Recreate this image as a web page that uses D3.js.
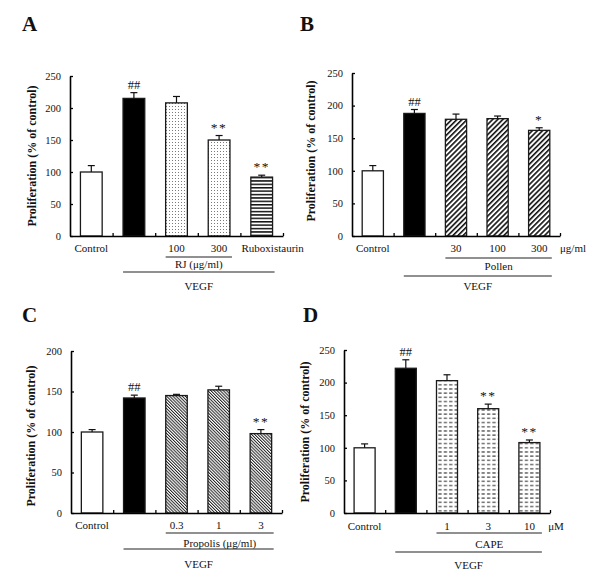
<!DOCTYPE html>
<html>
<head>
<meta charset="utf-8">
<script src="https://cdn.jsdelivr.net/npm/d3@7"></script>
<style>
  html, body { margin: 0; padding: 0; background: #fff; }
  svg { display: block; }
  text { font-family: "Liberation Serif", "Times New Roman", serif; fill: #111; }
</style>
</head>
<body>
<svg id="chart" width="600" height="580"></svg>
<script>
// ---------------- DATA ----------------
const yTitle = "Proliferation (% of control)";

const aLabels = ["Control", "", "100", "300", "Ruboxistaurin"];
const aValues = [100, 215, 208, 150, 92];
const aErrors = [10, 9, 10, 7, 3];
const aMarks  = ["", "##", "", "**", "**"];
const aFills  = ["white", "black", "dots", "dots", "hlines"];
const aTicks  = [0, 50, 100, 150, 200, 250];
const aGroups = [{text: "RJ (\u03bcg/ml)", from: 2, to: 3}, {text: "VEGF", from: 1, to: 4}];

const bLabels = ["Control", "", "30", "100", "300"];
const bValues = [100, 188, 179, 180, 162];
const bErrors = [8, 6, 8, 4, 4];
const bMarks  = ["", "##", "", "", "*"];
const bFills  = ["white", "black", "diag", "diag", "diag"];
const bTicks  = [0, 50, 100, 150, 200, 250];
const bUnit   = "\u03bcg/ml";
const bGroups = [{text: "Pollen", from: 2, to: 4}, {text: "VEGF", from: 1, to: 4}];

const cLabels = ["Control", "", "0.3", "1", "3"];
const cValues = [100, 142, 145, 152, 98];
const cErrors = [3, 3.5, 1.5, 4.5, 5];
const cMarks  = ["", "##", "", "", "**"];
const cFills  = ["white", "black", "diagDense", "diagDense", "diagDense"];
const cTicks  = [0, 50, 100, 150, 200];
const cGroups = [{text: "Propolis (\u03bcg/ml)", from: 2, to: 4}, {text: "VEGF", from: 1, to: 4}];

const dLabels = ["Control", "", "1", "3", "10"];
const dValues = [100, 222, 203, 160, 108];
const dErrors = [6, 13, 9, 7, 4];
const dMarks  = ["", "##", "", "**", "**"];
const dFills  = ["white", "black", "dashes", "dashes", "dashes"];
const dTicks  = [0, 50, 100, 150, 200, 250];
const dUnit   = "\u03bcM";
const dGroups = [{text: "CAPE", from: 2, to: 4}, {text: "VEGF", from: 1, to: 4}];

// ---------------- DRAW ----------------
const svg = d3.select("#chart");
const defs = svg.append("defs");

// patterns
(function () {
  let p = defs.append("pattern").attr("id", "dots").attr("patternUnits", "userSpaceOnUse")
    .attr("width", 3).attr("height", 3);
  p.append("rect").attr("width", 3).attr("height", 3).attr("fill", "#fff");
  p.append("rect").attr("x", 1).attr("y", 1).attr("width", 1).attr("height", 1).attr("fill", "#7a7a7a");

  p = defs.append("pattern").attr("id", "hlines").attr("patternUnits", "userSpaceOnUse")
    .attr("width", 4).attr("height", 3.4);
  p.append("rect").attr("width", 4).attr("height", 3.4).attr("fill", "#fff");
  p.append("rect").attr("y", 0).attr("width", 4).attr("height", 1.5).attr("fill", "#111");

  p = defs.append("pattern").attr("id", "diag").attr("patternUnits", "userSpaceOnUse")
    .attr("width", 3.6).attr("height", 3.6).attr("patternTransform", "rotate(45)");
  p.append("rect").attr("width", 3.6).attr("height", 3.6).attr("fill", "#fff");
  p.append("rect").attr("width", 1.6).attr("height", 3.6).attr("fill", "#111");

  p = defs.append("pattern").attr("id", "diagDense").attr("patternUnits", "userSpaceOnUse")
    .attr("width", 2.2).attr("height", 2.2).attr("patternTransform", "rotate(-45)");
  p.append("rect").attr("width", 2.2).attr("height", 2.2).attr("fill", "#fff");
  p.append("rect").attr("width", 1.0).attr("height", 2.2).attr("fill", "#222");

  p = defs.append("pattern").attr("id", "dashes").attr("patternUnits", "userSpaceOnUse")
    .attr("width", 5.4).attr("height", 4.2);
  p.append("rect").attr("width", 5.4).attr("height", 4.2).attr("fill", "#fff");
  p.append("rect").attr("x", 1).attr("y", 2).attr("width", 3.2).attr("height", 1.1).attr("fill", "#333");
})();

function fillFor(f) {
  if (f === "white") return "#fff";
  if (f === "black") return "#000";
  return "url(#" + f + ")";
}

function panel(cfg) {
  const {letter, letterX, letterY, x0, x1, yBase, yTop, yMax, ticks, labels, values, errors, marks, fills,
         groups, unit, unitX, titleX, titleY, labelY, groupLineY, groupTextY, extraLabelDx} = cfg;
  const g = svg.append("g");
  const n = values.length;
  const band = d3.scaleBand().domain(d3.range(n)).range([x0, x1]).padding(0);
  const xLin = d3.scaleLinear().domain([0, n]).range([x0, x1]);
  const y = d3.scaleLinear().domain([0, yMax]).range([yBase, yTop]);
  const bw = band.bandwidth() * 0.51;
  const cx = i => band(i) + band.bandwidth() / 2;

  // letter
  g.append("text").attr("x", letterX).attr("y", letterY).attr("font-size", 21)
    .attr("font-weight", "bold").text(letter);

  // bars
  g.selectAll("rect.bar").data(values).join("rect").attr("class", "bar")
    .attr("x", (d, i) => cx(i) - bw / 2).attr("width", bw)
    .attr("y", d => y(d)).attr("height", d => y(0) - y(d))
    .attr("fill", (d, i) => fillFor(fills[i]))
    .attr("stroke", "#1a1a1a").attr("stroke-width", 1.3);

  // error bars
  g.selectAll("line.err").data(values).join("line").attr("class", "err")
    .attr("x1", (d, i) => cx(i)).attr("x2", (d, i) => cx(i))
    .attr("y1", d => y(d)).attr("y2", (d, i) => y(d + errors[i]))
    .attr("stroke", "#111").attr("stroke-width", 1.2);
  g.selectAll("line.cap").data(values).join("line").attr("class", "cap")
    .attr("x1", (d, i) => cx(i) - 3.5).attr("x2", (d, i) => cx(i) + 3.5)
    .attr("y1", (d, i) => y(d + errors[i])).attr("y2", (d, i) => y(d + errors[i]))
    .attr("stroke", "#111").attr("stroke-width", 1.2);

  // significance marks
  g.selectAll("text.mark").data(values).join("text").attr("class", "mark")
    .attr("x", (d, i) => cx(i)).attr("y", (d, i) => y(d + errors[i]) - 4)
    .attr("text-anchor", "middle").attr("font-size", (d, i) => marks[i].startsWith("#") ? 12.5 : 13.5)
    .attr("letter-spacing", (d, i) => marks[i].startsWith("*") ? 1.5 : 0)
    .attr("fill", "#222")
    .text((d, i) => marks[i]);

  // y axis
  const ya = g.append("g").attr("transform", `translate(${x0},0)`)
    .call(d3.axisLeft(y).tickValues(ticks).tickSizeInner(-3).tickSizeOuter(0).tickPadding(9));
  ya.select(".domain").attr("stroke", "#000").attr("stroke-width", 1.6);
  ya.selectAll(".tick line").attr("stroke", "#000").attr("stroke-width", 1.3);
  ya.selectAll(".tick text").attr("font-family", "Liberation Serif, Times New Roman, serif")
    .attr("font-size", 10.5).attr("fill", "#222");

  // x axis
  const xa = g.append("g").attr("transform", `translate(0,${yBase})`)
    .call(d3.axisBottom(xLin).tickValues(d3.range(1, n + 1)).tickSizeInner(-3).tickSizeOuter(0).tickFormat(""));
  xa.select(".domain").attr("stroke", "#000").attr("stroke-width", 1.6);
  xa.selectAll(".tick line").attr("stroke", "#000").attr("stroke-width", 1.3);

  // y title
  g.append("text").attr("transform", `translate(${titleX},${titleY}) rotate(-90)`)
    .attr("text-anchor", "middle").attr("font-size", 12).attr("font-weight", "bold")
    .text(yTitle);

  // category labels
  g.selectAll("text.cat").data(labels).join("text").attr("class", "cat")
    .attr("x", (d, i) => cx(i) + (i === n - 1 && extraLabelDx ? extraLabelDx : 0))
    .attr("y", labelY).attr("text-anchor", "middle").attr("font-size", 11).text(d => d);

  if (unit) {
    g.append("text").attr("x", unitX).attr("y", labelY).attr("text-anchor", "middle")
      .attr("font-size", 11).text(unit);
  }

  // group brackets
  groups.forEach((gr, k) => {
    const lx1 = cx(gr.from) - bw / 2;
    const lx2 = cx(gr.to) + bw / 2 + 2;
    g.append("line").attr("x1", lx1).attr("x2", lx2)
      .attr("y1", groupLineY[k]).attr("y2", groupLineY[k])
      .attr("stroke", "#222").attr("stroke-width", 1.2);
    g.append("text").attr("x", (lx1 + lx2) / 2).attr("y", groupTextY[k])
      .attr("text-anchor", "middle").attr("font-size", 11).text(gr.text);
  });
}

panel({letter: "A", letterX: 22, letterY: 31, x0: 70, x1: 283, yBase: 236, yTop: 76, yMax: 250,
  ticks: aTicks, labels: aLabels, values: aValues, errors: aErrors, marks: aMarks, fills: aFills,
  groups: aGroups, titleX: 36, titleY: 156, labelY: 252, groupLineY: [257, 272], groupTextY: [268, 290],
  extraLabelDx: 11});

panel({letter: "B", letterX: 300, letterY: 31, x0: 352, x1: 560, yBase: 236, yTop: 73, yMax: 250,
  ticks: bTicks, labels: bLabels, values: bValues, errors: bErrors, marks: bMarks, fills: bFills,
  groups: bGroups, unit: bUnit, unitX: 573, titleX: 315, titleY: 151, labelY: 252,
  groupLineY: [258, 276], groupTextY: [270, 290]});

panel({letter: "C", letterX: 22, letterY: 322, x0: 71, x1: 282, yBase: 513, yTop: 351, yMax: 200,
  ticks: cTicks, labels: cLabels, values: cValues, errors: cErrors, marks: cMarks, fills: cFills,
  groups: cGroups, titleX: 35, titleY: 436, labelY: 529, groupLineY: [533, 549], groupTextY: [547, 568]});

panel({letter: "D", letterX: 303, letterY: 322, x0: 344, x1: 550, yBase: 513, yTop: 350, yMax: 250,
  ticks: dTicks, labels: dLabels, values: dValues, errors: dErrors, marks: dMarks, fills: dFills,
  groups: dGroups, unit: dUnit, unitX: 556, titleX: 309, titleY: 432, labelY: 530,
  groupLineY: [533, 552], groupTextY: [548, 569]});
</script>
</body>
</html>
